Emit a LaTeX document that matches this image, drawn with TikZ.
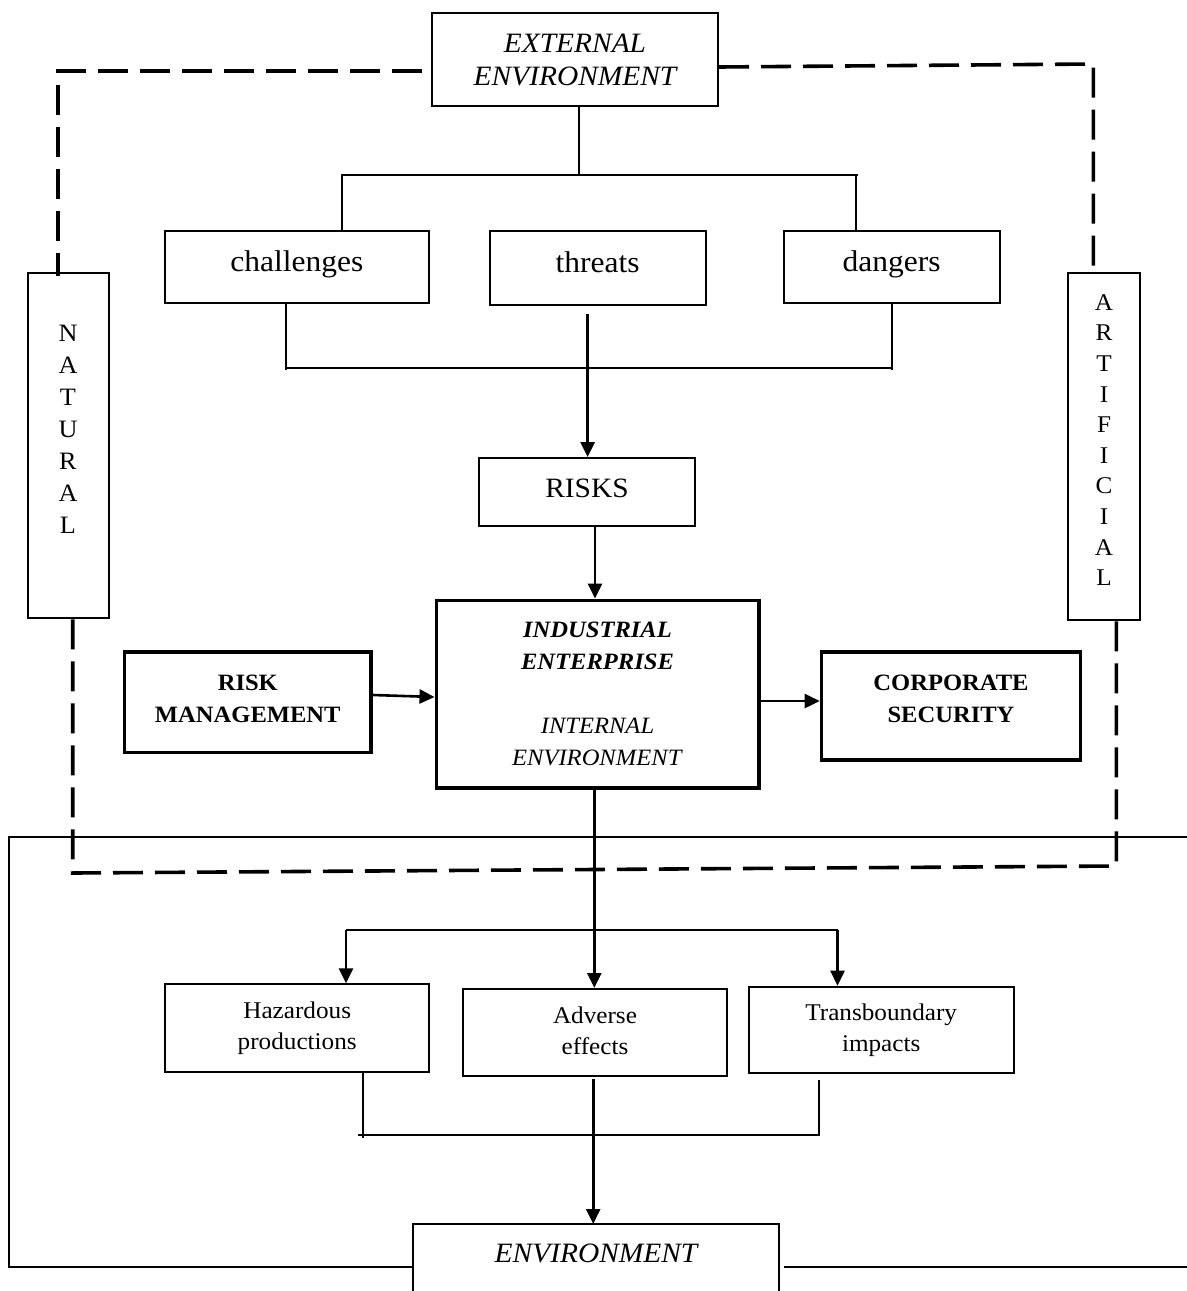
\documentclass[tikz,border=0pt]{standalone}
\usepackage{fontspec}
\setmainfont{Liberation Serif}[FakeStretch=1.05]
\usetikzlibrary{arrows.meta,calc}
\begin{document}
\begin{tikzpicture}[x=0.5pt,y=-0.5pt,
  box/.style={draw,line width=1pt,rectangle,inner sep=0pt,align=center},
  bbox/.style={draw,line width=1.8pt,rectangle,inner sep=0pt,align=center},
  txt/.style={inner sep=0pt,align=center},
  conn/.style={line width=1pt},
  arr/.style={line width=1.3pt,-{Triangle[length=7.5pt,width=7pt]}},
  envdash/.style={line width=1.8pt,dash pattern=on 15pt off 6pt},
  big/.style={font=\fontsize{15}{18}\selectfont,text height=10.5pt,text depth=5.8pt},
  mid/.style={font=\fontsize{14}{16.5}\selectfont\itshape},
  small/.style={font=\fontsize{12}{15.5}\selectfont},
  bsmall/.style={font=\fontsize{11.7}{16}\selectfont\bfseries}
]
\useasboundingbox (0,0) rectangle (1187,1291);
\clip (0,0) rectangle (1187,1291);

% nodes
\node[box,mid,minimum width=143pt,minimum height=46.5pt] (ext) at (575,59.5) {EXTERNAL\\ENVIRONMENT};
\node[box,big,minimum width=132pt,minimum height=36pt] (chal) at (296.8,267) {challenges};
\node[box,big,minimum width=108pt,minimum height=37pt] (thr) at (597.6,268) {threats};
\node[box,big,minimum width=108pt,minimum height=36pt] (dan) at (891.6,267) {dangers};
\node[box,minimum width=40.2pt,minimum height=172.9pt] (nat) at (68.5,445.4) {};
\node[txt,font=\fontsize{12.5}{16}\selectfont] (natlbl) at (68,429) {N\\A\\T\\U\\R\\A\\L};
\node[box,minimum width=35.75pt,minimum height=173.5pt] (art) at (1103.8,446.5) {};
\node[txt,font=\fontsize{12}{15.3}\selectfont] (artlbl) at (1104,440) {A\\R\\T\\I\\F\\I\\C\\I\\A\\L};
\node[box,font=\fontsize{14}{16}\selectfont,text height=9.3pt,text depth=3.9pt,minimum width=108pt,minimum height=33.85pt] (risks) at (587,491.9) {RISKS};
\node[bbox,font=\fontsize{11.7}{16}\selectfont,minimum width=161.2pt,minimum height=93.7pt] (ie) at (597.5,694)
  {\textbf{\textit{INDUSTRIAL}}\\\textbf{\textit{ENTERPRISE}}\\[16pt]\textit{INTERNAL}\\\textit{ENVIRONMENT}};
\node[bbox,bsmall,text depth=3pt,minimum width=123.4pt,minimum height=50.3pt] (rm) at (247.8,702) {RISK\\MANAGEMENT};
\node[bbox,bsmall,text depth=7pt,minimum width=129.5pt,minimum height=54.15pt] (cs) at (951,705.9) {CORPORATE\\SECURITY};
\node[box,small,minimum width=132.2pt,minimum height=43.7pt] (haz) at (297.2,1028) {\strut Hazardous\\\strut productions};
\node[box,small,minimum width=132pt,minimum height=43.5pt] (adv) at (595,1032.5) {\strut Adverse\\\strut effects};
\node[box,small,minimum width=132.35pt,minimum height=43.3pt] (tra) at (881.2,1030) {\strut Transboundary\\\strut impacts};
\node[txt,mid] (env) at (596,1253.7) {ENVIRONMENT};
\coordinate (envNW) at (412.5,1224);
\coordinate (envNE) at (779.3,1224);

% environment box (open at the bottom) and outer frame
\draw[conn] (412.5,1300) -- (envNW) -- (envNE) -- (779.3,1300);
\draw[conn] (1187,837) -- (9,837) -- (9,1267) -- (envNW |- 0,1267);
\draw[conn] (783.5,1267) -- (1187,1267);

% top tree
\draw[conn] ([xshift=2pt]ext.south) -- ([xshift=2pt]ext.south |- 0,175);
\draw[conn] ([xshift=22.5pt]chal.north) |- ([xshift=-17pt]dan.north |- 0,175);
\draw[conn] ([xshift=-18pt]dan.north |- 0,175) -- ([xshift=-18pt]dan.north);
\draw[conn] ([xshift=-5.4pt]chal.south) -- ([xshift=-5.4pt]chal.south |- 0,370);
\draw[conn] ([xshift=-5.4pt]chal.south |- 0,368) -- (dan.south |- 0,368);
\draw[conn] (dan.south) -- (dan.south |- 0,370);

% arrows
\draw[arr] ([xshift=-5pt,yshift=-4pt]thr.south) -- ([xshift=-5pt]thr.south |- risks.north);
\draw[arr] ([xshift=4pt]risks.south) -- ([xshift=4pt]risks.south |- ie.north);
\draw[arr] ([yshift=3.5pt]rm.east) -- ([yshift=-1.5pt]ie.west);
\draw[arr] ([yshift=-3.5pt]ie.east) -- ([yshift=-3.5pt]ie.east -| cs.west);
\draw[arr] ([xshift=-1.6pt]ie.south) -- ([xshift=-1.6pt]ie.south |- adv.north);

% lower branching
\draw[conn] ([xshift=24.4pt]haz.north |- 0,930) -- ([xshift=-21.85pt]tra.north |- 0,930);
\draw[arr] ([xshift=24.4pt]haz.north |- 0,930) -- ([xshift=24.4pt]haz.north);
\draw[arr] ([xshift=-21.85pt]tra.north |- 0,930) -- ([xshift=-21.85pt]tra.north);
\draw[conn] ([xshift=32.8pt]haz.south) -- ([xshift=32.8pt]haz.south |- 0,1138);
\draw[conn] ([xshift=30.3pt]haz.south |- 0,1135) -| ([xshift=-31.35pt,yshift=-3pt]tra.south);
\draw[arr] ([xshift=-0.9pt,yshift=-1pt]adv.south) -- ([xshift=-0.9pt]adv.south |- envNW);

% dashed environment boundary
\draw[envdash] ([xshift=-4.5pt,yshift=-5.6pt]ext.west) -| ([xshift=-5.25pt,yshift=-2.25pt]nat.north);
\draw[envdash] ([yshift=-3.75pt]ext.east) -- ([xshift=-5.2pt]art.north |- 0,64) -- ([xshift=-5.2pt]art.north);
\draw[envdash] ([xshift=2.1pt]nat.south) -- ([xshift=2.1pt]nat.south |- 0,873) -- ([xshift=6.25pt]art.south |- 0,866) -- ([xshift=6.25pt]art.south);
\end{tikzpicture}
\end{document}
